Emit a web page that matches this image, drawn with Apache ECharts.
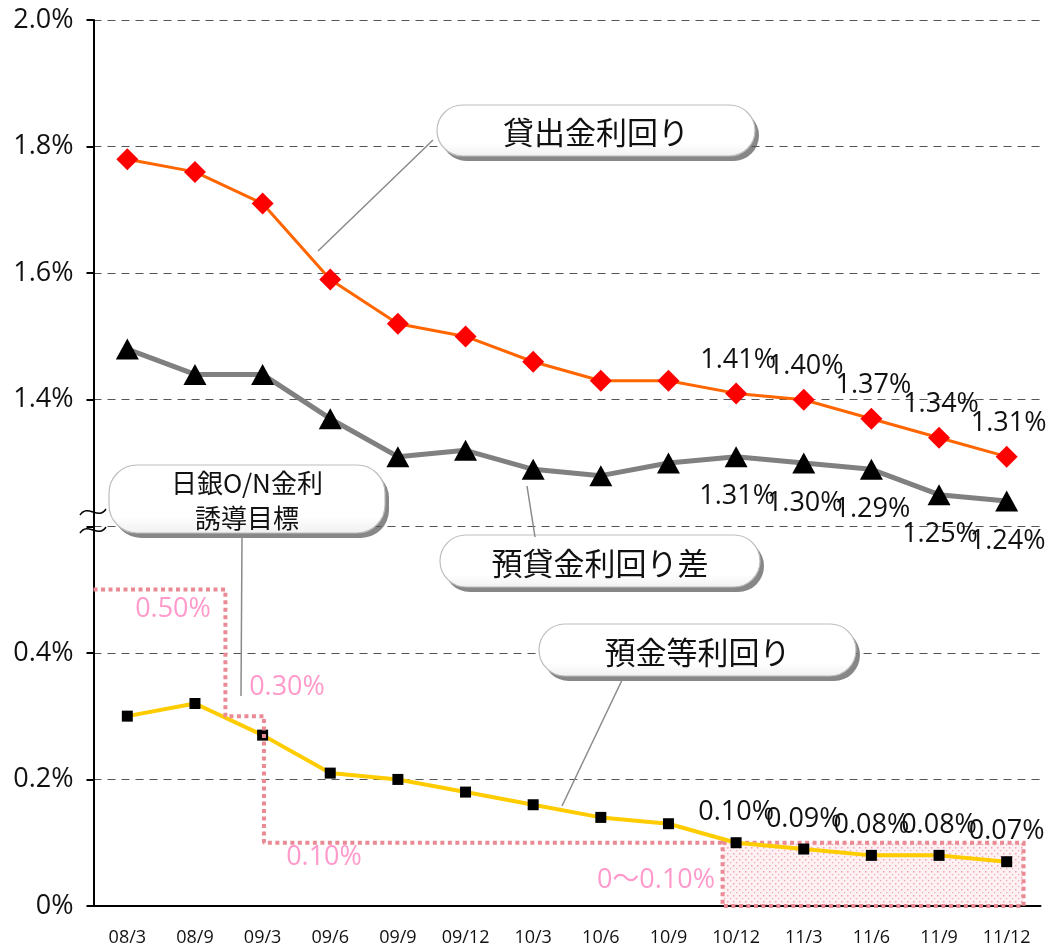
<!DOCTYPE html>
<html><head><meta charset="utf-8">
<script src="https://cdn.jsdelivr.net/npm/echarts@6/dist/echarts.min.js"></script>
<style>html,body{margin:0;padding:0;background:#fff}#c{width:1056px;height:947px}</style>
</head><body><div id="c"></div>
<script>
const categories = ['08/3','08/9','09/3','09/6','09/9','09/12','10/3','10/6','10/9','10/12','11/3','11/6','11/9','11/12'];
const loanYield = [1.78,1.76,1.71,1.59,1.52,1.50,1.46,1.43,1.43,1.41,1.40,1.37,1.34,1.31];
const spread = [1.48,1.44,1.44,1.37,1.31,1.32,1.29,1.28,1.30,1.31,1.30,1.29,1.25,1.24];
const depositYield = [0.30,0.32,0.27,0.21,0.20,0.18,0.16,0.14,0.13,0.10,0.09,0.08,0.08,0.07];
// BOJ O/N call rate target, x in category-index units (step changes)
const bojX = [-0.5, 1.45, 2.02, 8.8];
const bojRate = [0.50, 0.30, 0.10, 0.10];
const zeroRangeX = [8.8, 13.25];
const zeroRangeY = [0, 0.10];
const bojLabels = ['0.50%','0.30%','0.10%','0〜0.10%'];
const BREAK = 0.6;      // upper section (1.2%-2.0%) drawn shifted down by 0.6
const LABEL_FROM = 9;   // value labels from 10/12 onward

const NUM_FONT = "'Open Sans','Noto Sans CJK JP',sans-serif";
const JP_FONT = "'Noto Sans CJK JP','Noto Sans',sans-serif";

function build(values, shift) {
  return values.map((v, i) => ({ value: +(v - shift).toFixed(4), orig: v, label: { show: i >= LABEL_FROM } }));
}
const pctLabel = p => p.data.orig.toFixed(2) + '%';

const pc = document.createElement('canvas');
pc.width = 6; pc.height = 6;
const ctx = pc.getContext('2d');
ctx.fillStyle = 'rgba(240,120,140,0.10)'; ctx.fillRect(0,0,6,6);
ctx.fillStyle = 'rgba(232,100,120,0.55)';
ctx.fillRect(1,1,1.5,1.5); ctx.fillRect(4,4,1.2,1.2);

function callout(x, y, w, h, text, fs, lh) {
  const r = Math.min(h / 2, 28);
  return {
    type: 'group', z: 50,
    children: [
      { type: 'rect', z2: 0, shape: { x: x + 4, y: y + 5, width: w, height: h, r: r },
        style: { fill: '#878787' } },
      { type: 'rect', z2: 1, shape: { x: x, y: y, width: w, height: h, r: r },
        style: { fill: new echarts.graphic.LinearGradient(0, 0, 0, 1, [{offset:0,color:'#ffffff'},{offset:0.75,color:'#ffffff'},{offset:1,color:'#f0f0f0'}]),
                 stroke: '#bdbdbd', lineWidth: 1.2 } },
      { type: 'text', z2: 2, style: { text: text, x: x + w / 2, y: y + h / 2 + 2, fill: '#111', fontSize: fs, fontFamily: JP_FONT,
               align: 'center', verticalAlign: 'middle', lineHeight: lh || fs } }
    ]
  };
}
function leader(x1, y1, x2, y2) {
  return { type: 'line', z: 40, shape: { x1, y1, x2, y2 }, style: { stroke: '#8a8a8a', lineWidth: 1.5 } };
}
function wave(y) {
  return { type: 'bezierCurve', z: 60, shape: { x1: 80, y1: y + 3, cpx1: 88, cpy1: y - 9, cpx2: 98, cpy2: y + 9, x2: 106, y2: y - 3 },
           style: { stroke: '#000', lineWidth: 1.5, fill: null } };
}
function pinkText(t, x, y) {
  return { type: 'text', z: 45, style: { text: t, x, y, fill: '#ff9acb', fontSize: 27, fontFamily: NUM_FONT, align: 'center', verticalAlign: 'middle' } };
}

const chart = echarts.init(document.getElementById('c'), null, { renderer: 'canvas' });
chart.setOption({
  animation: false,
  backgroundColor: '#fff',
  grid: { left: 93.5, right: 15.5, top: 20, bottom: 40, containLabel: false },
  xAxis: [
    { type: 'category', data: categories, boundaryGap: true,
      axisLine: { onZero: false, lineStyle: { color: '#000', width: 2 } },
      axisTick: { inside: true, length: 6, lineStyle: { color: '#000', width: 2 } },
      axisLabel: { margin: 23, fontSize: 18, color: '#111', fontFamily: NUM_FONT },
      splitLine: { show: false } },
    { type: 'value', min: -0.5, max: 13.5, show: false, axisLine: { onZero: false } }
  ],
  yAxis: {
    type: 'value', min: 0, max: 1.4, interval: 0.2,
    axisLine: { show: true, onZero: false, lineStyle: { color: '#000', width: 2 } },
    axisTick: { show: true, length: 7, lineStyle: { color: '#000', width: 2 } },
    axisLabel: { margin: 20, fontSize: 27, color: '#111', fontFamily: NUM_FONT,
      formatter: v => {
        const r = Math.round(v * 10) / 10;
        if (r === 0) return '0%';
        if (r < 0.55) return r.toFixed(1) + '%';
        if (r < 0.65) return '';
        return (r + BREAK).toFixed(1) + '%';
      } },
    splitLine: { show: true, lineStyle: { color: '#555', width: 1, type: [8, 6] } }
  },
  series: [
    { name: '貸出金利回り', type: 'line', data: build(loanYield, BREAK), z: 4,
      symbol: 'diamond', symbolSize: 22,
      itemStyle: { color: '#ff0000' }, lineStyle: { color: '#ff6600', width: 3 },
      label: { position: 'inside', offset: [2, -33], formatter: pctLabel, fontSize: 27, color: '#111', fontFamily: NUM_FONT } },
    { name: '預貸金利回り差', type: 'line', data: build(spread, BREAK), z: 3,
      symbol: 'triangle', symbolSize: [23, 21],
      itemStyle: { color: '#000' }, lineStyle: { color: '#808080', width: 5 },
      label: { position: 'inside', offset: [1, 40], formatter: pctLabel, fontSize: 27, color: '#111', fontFamily: NUM_FONT } },
    { name: '預金等利回り', type: 'line', data: build(depositYield, 0), z: 3,
      symbol: 'rect', symbolSize: 11,
      itemStyle: { color: '#000' }, lineStyle: { color: '#ffcc00', width: 4 },
      label: { position: 'inside', offset: [0, -30], formatter: pctLabel, fontSize: 27, color: '#111', fontFamily: NUM_FONT } },
    { name: '日銀O/N金利誘導目標', type: 'line', xAxisIndex: 1, yAxisIndex: 0, z: 6,
      data: bojX.map((x, i) => [x, bojRate[i]]), step: 'end', symbol: 'none',
      lineStyle: { color: '#ea8a94', width: 4, type: [4, 3.5] },
      markArea: { silent: true,
        itemStyle: { color: { image: pc, repeat: 'repeat' }, borderColor: '#ea8a94', borderWidth: 4, borderType: [4, 3.5] },
        data: [[{ coord: [zeroRangeX[0], zeroRangeY[1]] }, { coord: [zeroRangeX[1], zeroRangeY[0]] }]] } }
  ],
  graphic: [
    leader(433, 140, 318, 251),
    leader(242, 537, 241, 696),
    leader(527, 486, 535, 537),
    leader(623, 678, 562, 806),
    wave(512), wave(530),
    callout(437, 105, 318, 51, '貸出金利回り', 31),
    callout(109, 465, 276, 68, '日銀O/N金利\n誘導目標', 26, 35),
    callout(440, 535, 320, 52, '預貸金利回り差', 31),
    callout(539, 624, 317, 52, '預金等利回り', 31),
    pinkText(bojLabels[0], 173, 609),
    pinkText(bojLabels[1], 287, 687),
    pinkText(bojLabels[2], 324, 857),
    pinkText(bojLabels[3], 656, 880)
  ]
});
</script></body></html>
